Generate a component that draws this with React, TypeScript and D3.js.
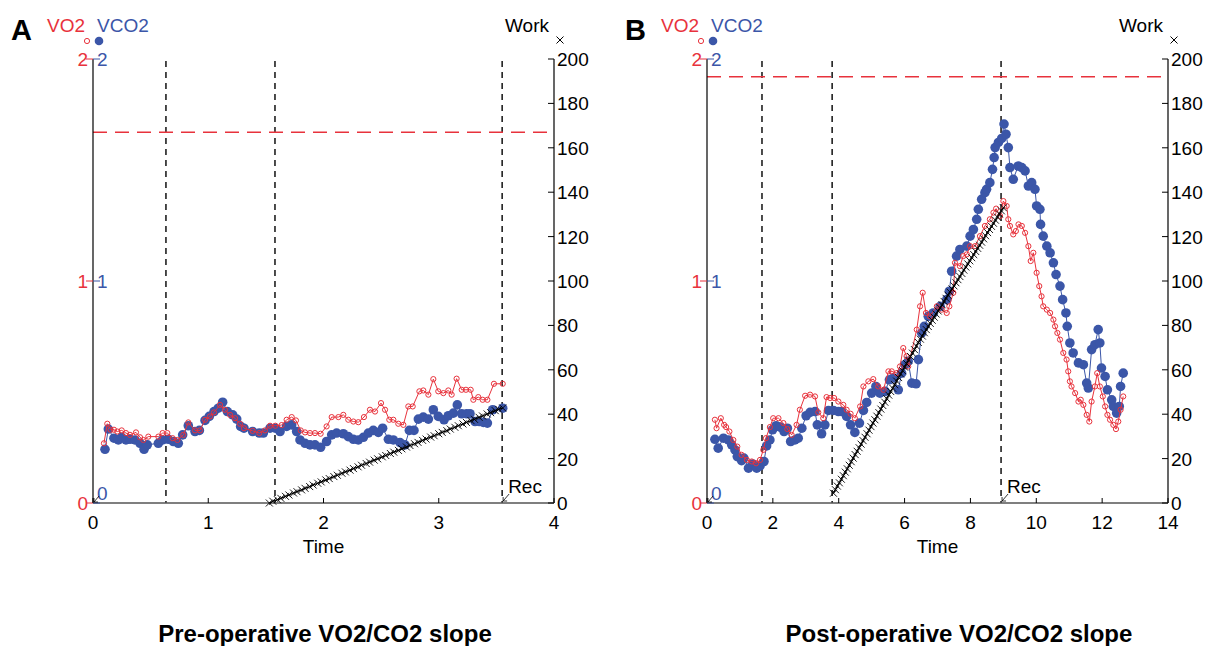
import React from 'react';
import * as d3 from 'd3';

type Pt = [number, number];

// Pre-operative (panel A): [time (min), L/min]
const vo2A: Pt[] = [
  [0.095, 0.269], [0.124, 0.357], [0.153, 0.33], [0.182, 0.33], [0.211, 0.322], [0.249, 0.327],
  [0.286, 0.315], [0.321, 0.307], [0.373, 0.318], [0.408, 0.296], [0.437, 0.284], [0.48, 0.299],
  [0.567, 0.299], [0.604, 0.315], [0.645, 0.315], [0.691, 0.292], [0.732, 0.284], [0.784, 0.307],
  [0.827, 0.363], [0.885, 0.327], [0.928, 0.327], [0.972, 0.375], [1.015, 0.39], [1.05, 0.408],
  [1.102, 0.442], [1.145, 0.42], [1.189, 0.397], [1.232, 0.382], [1.275, 0.357], [1.31, 0.337],
  [1.385, 0.325], [1.443, 0.315], [1.492, 0.327], [1.536, 0.348], [1.582, 0.348], [1.637, 0.351],
  [1.68, 0.375], [1.724, 0.387], [1.761, 0.372], [1.802, 0.327], [1.84, 0.318], [1.883, 0.315],
  [1.926, 0.315], [1.975, 0.312], [2.027, 0.345], [2.071, 0.387], [2.129, 0.387], [2.172, 0.397],
  [2.215, 0.375], [2.259, 0.367], [2.302, 0.364], [2.351, 0.387], [2.403, 0.42], [2.447, 0.412],
  [2.499, 0.45], [2.534, 0.42], [2.571, 0.375], [2.606, 0.375], [2.649, 0.357], [2.693, 0.352],
  [2.736, 0.435], [2.774, 0.435], [2.832, 0.503], [2.866, 0.507], [2.91, 0.488], [2.953, 0.558],
  [2.996, 0.503], [3.04, 0.495], [3.083, 0.507], [3.112, 0.488], [3.155, 0.56], [3.199, 0.51],
  [3.236, 0.51], [3.277, 0.51], [3.3, 0.465], [3.343, 0.477], [3.381, 0.465], [3.422, 0.465],
  [3.479, 0.537], [3.555, 0.537],
];

const vco2A: Pt[] = [
  [0.104, 0.242], [0.133, 0.333], [0.182, 0.292], [0.22, 0.284], [0.249, 0.296], [0.286, 0.284],
  [0.321, 0.287], [0.364, 0.284], [0.408, 0.269], [0.443, 0.242], [0.471, 0.262], [0.567, 0.269],
  [0.604, 0.284], [0.654, 0.287], [0.697, 0.277], [0.74, 0.269], [0.778, 0.307], [0.827, 0.348],
  [0.885, 0.322], [0.923, 0.327], [0.972, 0.372], [1.009, 0.39], [1.05, 0.412], [1.087, 0.427],
  [1.125, 0.454], [1.166, 0.412], [1.212, 0.397], [1.247, 0.378], [1.281, 0.345], [1.31, 0.337],
  [1.385, 0.322], [1.443, 0.315], [1.478, 0.315], [1.536, 0.337], [1.582, 0.337], [1.623, 0.322],
  [1.68, 0.345], [1.724, 0.352], [1.767, 0.322], [1.796, 0.284], [1.84, 0.269], [1.883, 0.262],
  [1.926, 0.262], [1.975, 0.251], [2.027, 0.277], [2.071, 0.307], [2.114, 0.315], [2.172, 0.312],
  [2.215, 0.299], [2.259, 0.287], [2.302, 0.284], [2.346, 0.296], [2.389, 0.315], [2.432, 0.327],
  [2.476, 0.318], [2.513, 0.337], [2.563, 0.287], [2.606, 0.284], [2.664, 0.272], [2.707, 0.262],
  [2.745, 0.327], [2.785, 0.327], [2.823, 0.378], [2.866, 0.387], [2.91, 0.378], [2.953, 0.42],
  [2.996, 0.39], [3.046, 0.375], [3.083, 0.393], [3.127, 0.405], [3.161, 0.442], [3.199, 0.402],
  [3.242, 0.402], [3.271, 0.402], [3.315, 0.367], [3.352, 0.367], [3.387, 0.363], [3.422, 0.36],
  [3.468, 0.42], [3.555, 0.427],
];

// [time (min), W]
const workA: Pt[] = [
  [1.53, 0], [1.56, 0.8], [1.6, 1.5], [1.63, 2.1], [1.67, 3.0], [1.7, 3.6], [1.74, 4.5], [1.77, 5.1],
  [1.81, 5.9], [1.84, 6.6], [1.88, 7.4], [1.91, 8.1], [1.95, 8.9], [1.98, 9.5], [2.02, 10.4], [2.05, 11.0],
  [2.09, 11.9], [2.12, 12.5], [2.16, 13.4], [2.19, 14.0], [2.23, 14.8], [2.26, 15.5], [2.3, 16.3], [2.33, 17.0],
  [2.37, 17.8], [2.4, 18.4], [2.44, 19.3], [2.47, 19.9], [2.51, 20.8], [2.54, 21.4], [2.58, 22.3], [2.61, 22.9],
  [2.65, 23.7], [2.68, 24.4], [2.72, 25.2], [2.75, 25.9], [2.79, 26.7], [2.82, 27.3], [2.86, 28.2], [2.89, 28.8],
  [2.93, 29.7], [2.96, 30.3], [3.0, 31.2], [3.03, 31.8], [3.07, 32.6], [3.1, 33.3], [3.14, 34.1], [3.17, 34.8],
  [3.21, 35.6], [3.24, 36.3], [3.28, 37.1], [3.31, 37.7], [3.35, 38.6], [3.38, 39.2], [3.42, 40.1], [3.45, 40.7],
  [3.49, 41.6], [3.52, 42.2], [3.555, 42.8],
];

// Post-operative (panel B)
const vo2B: Pt[] = [
  [0.24, 0.375], [0.29, 0.337], [0.42, 0.382], [0.52, 0.352], [0.58, 0.342], [0.68, 0.322], [0.8, 0.284],
  [0.92, 0.254], [1.05, 0.217], [1.21, 0.194], [1.36, 0.187], [1.49, 0.179], [1.61, 0.194], [1.71, 0.239],
  [1.79, 0.292], [1.91, 0.342], [2.01, 0.382], [2.17, 0.382], [2.32, 0.36], [2.44, 0.333], [2.57, 0.307],
  [2.72, 0.352], [2.82, 0.42], [2.98, 0.483], [3.13, 0.488], [3.28, 0.48], [3.38, 0.408], [3.53, 0.382],
  [3.63, 0.477], [3.74, 0.473], [3.86, 0.473], [3.99, 0.457], [4.14, 0.442], [4.24, 0.42], [4.36, 0.402],
  [4.49, 0.382], [4.65, 0.435], [4.75, 0.525], [4.9, 0.548], [5.05, 0.558], [5.2, 0.525], [5.36, 0.51],
  [5.51, 0.593], [5.61, 0.593], [5.76, 0.585], [5.86, 0.615], [5.96, 0.698], [6.06, 0.661], [6.11, 0.615],
  [6.37, 0.781], [6.47, 0.886], [6.55, 0.947], [6.65, 0.856], [6.77, 0.841], [6.98, 0.886], [7.13, 0.871],
  [7.28, 0.856], [7.36, 0.886], [7.48, 0.947], [7.53, 1.082], [7.68, 1.067], [7.78, 1.112], [7.89, 1.12],
  [7.99, 1.157], [8.14, 1.157], [8.29, 1.202], [8.44, 1.248], [8.59, 1.278], [8.7, 1.308], [8.78, 1.326],
  [8.9, 1.293], [9.0, 1.36], [9.1, 1.338], [9.15, 1.278], [9.2, 1.248], [9.3, 1.21], [9.38, 1.225],
  [9.46, 1.255], [9.56, 1.248], [9.66, 1.217], [9.76, 1.157], [9.83, 1.09], [9.91, 1.127], [10.01, 1.037],
  [10.09, 0.977], [10.16, 0.931], [10.21, 0.886], [10.32, 0.871], [10.42, 0.856], [10.52, 0.826],
  [10.57, 0.796], [10.64, 0.766], [10.72, 0.736], [10.82, 0.676], [10.92, 0.646], [10.97, 0.593],
  [11.02, 0.548], [11.07, 0.525], [11.18, 0.495], [11.28, 0.457], [11.35, 0.465], [11.43, 0.442],
  [11.53, 0.397], [11.61, 0.367], [11.68, 0.457], [11.78, 0.525], [11.85, 0.585], [11.93, 0.525],
  [12.02, 0.48], [12.09, 0.435], [12.16, 0.397], [12.24, 0.375], [12.34, 0.352], [12.42, 0.333],
  [12.49, 0.367], [12.56, 0.42], [12.64, 0.48],
];

const vco2B: Pt[] = [
  [0.24, 0.287], [0.34, 0.247], [0.5, 0.292], [0.65, 0.284], [0.75, 0.262], [0.85, 0.239], [0.92, 0.209],
  [1.05, 0.191], [1.12, 0.202], [1.26, 0.157], [1.39, 0.176], [1.51, 0.157], [1.61, 0.167], [1.73, 0.187],
  [1.81, 0.257], [1.91, 0.284], [1.99, 0.33], [2.1, 0.348], [2.22, 0.342], [2.34, 0.322], [2.44, 0.337],
  [2.54, 0.277], [2.67, 0.284], [2.77, 0.292], [2.88, 0.337], [3.01, 0.393], [3.13, 0.408], [3.28, 0.412],
  [3.35, 0.352], [3.48, 0.312], [3.58, 0.352], [3.69, 0.417], [3.84, 0.417], [3.99, 0.412], [4.09, 0.412],
  [4.24, 0.39], [4.36, 0.352], [4.49, 0.318], [4.63, 0.36], [4.75, 0.417], [4.85, 0.453], [5.0, 0.495],
  [5.13, 0.525], [5.25, 0.495], [5.41, 0.503], [5.54, 0.555], [5.66, 0.563], [5.81, 0.51], [5.91, 0.585],
  [6.01, 0.623], [6.11, 0.638], [6.22, 0.54], [6.35, 0.537], [6.42, 0.646], [6.52, 0.766], [6.6, 0.796],
  [6.72, 0.841], [6.87, 0.856], [7.08, 0.886], [7.28, 0.916], [7.36, 0.954], [7.43, 1.044], [7.58, 1.112],
  [7.68, 1.142], [7.89, 1.157], [7.99, 1.202], [8.09, 1.232], [8.19, 1.278], [8.24, 1.323], [8.34, 1.368],
  [8.44, 1.398], [8.49, 1.413], [8.59, 1.443], [8.67, 1.503], [8.72, 1.556], [8.75, 1.601], [8.85, 1.624],
  [8.95, 1.642], [9.02, 1.707], [9.08, 1.661], [9.15, 1.601], [9.2, 1.511], [9.3, 1.458], [9.45, 1.518],
  [9.56, 1.511], [9.66, 1.496], [9.76, 1.428], [9.86, 1.443], [9.96, 1.413], [10.01, 1.338], [10.11, 1.323],
  [10.13, 1.255], [10.21, 1.202], [10.32, 1.157], [10.42, 1.127], [10.52, 1.082], [10.6, 1.029],
  [10.72, 0.977], [10.8, 0.916], [10.9, 0.856], [10.94, 0.796], [11.02, 0.721], [11.12, 0.676],
  [11.28, 0.631], [11.43, 0.623], [11.53, 0.54], [11.58, 0.518], [11.68, 0.691], [11.78, 0.713],
  [11.88, 0.781], [11.93, 0.721], [11.98, 0.608], [12.09, 0.57], [12.16, 0.51], [12.29, 0.465],
  [12.34, 0.435], [12.44, 0.405], [12.52, 0.435], [12.56, 0.525], [12.64, 0.585],
];

const workB: Pt[] = [
  [3.84, 4.4], [3.9, 6.0], [3.96, 7.6], [4.02, 9.1], [4.08, 10.7], [4.14, 12.3], [4.2, 13.9], [4.26, 15.4],
  [4.32, 17.0], [4.38, 18.6], [4.44, 20.2], [4.5, 21.8], [4.56, 23.3], [4.62, 24.9], [4.68, 26.5], [4.74, 28.1],
  [4.8, 29.6], [4.86, 31.2], [4.92, 32.8], [4.98, 34.4], [5.04, 36.0], [5.1, 37.5], [5.16, 39.1], [5.22, 40.7],
  [5.28, 42.3], [5.34, 43.9], [5.4, 45.4], [5.46, 47.0], [5.52, 48.6], [5.58, 50.2], [5.64, 51.7], [5.7, 53.3],
  [5.76, 54.9], [5.82, 56.5], [5.88, 58.1], [5.94, 59.6], [6.0, 61.2], [6.06, 62.8], [6.12, 64.4], [6.18, 66.0],
  [6.24, 67.5], [6.3, 69.1], [6.36, 70.7], [6.42, 72.3], [6.48, 73.8], [6.54, 75.2], [6.6, 76.7], [6.66, 78.1],
  [6.72, 79.5], [6.78, 80.9], [6.84, 82.3], [6.9, 83.7], [6.96, 85.1], [7.02, 86.5], [7.08, 87.9], [7.14, 89.3],
  [7.2, 90.8], [7.26, 92.2], [7.32, 93.6], [7.38, 95.0], [7.44, 96.4], [7.5, 97.8], [7.56, 99.2], [7.62, 100.6],
  [7.68, 102.0], [7.74, 103.4], [7.8, 104.9], [7.86, 106.3], [7.92, 107.7], [7.98, 109.1], [8.04, 110.5],
  [8.1, 111.9], [8.16, 113.3], [8.22, 114.7], [8.28, 116.1], [8.34, 117.5], [8.4, 119.0], [8.46, 120.4],
  [8.52, 121.8], [8.58, 123.2], [8.64, 124.6], [8.7, 126.0], [8.76, 127.4], [8.82, 128.8], [8.88, 130.2],
  [8.94, 131.6], [9.0, 133.0],
];

const phasesA = [0.633, 1.579, 3.55];
const phasesB = [1.67, 3.8, 8.93];
const limitA = 1.67;
const limitB = 1.92;
const gasTicks = [0, 1, 2];
const workTicks = [0, 20, 40, 60, 80, 100, 120, 140, 160, 180, 200];
const timeTicksA = [0, 1, 2, 3, 4];
const timeTicksB = [0, 2, 4, 6, 8, 10, 12, 14];

const RED = '#e8323c';
const BLUE = '#3b56a8';
const FONT = '"Liberation Sans", Arial, Helvetica, sans-serif';

const TOP = 59;
const BOTTOM = 503;
const PW = 461;
const FS = 19;

interface PanelProps {
  left: number;
  letter: string;
  xMax: number;
  timeTicks: number[];
  phases: number[];
  limit: number;
  vo2: Pt[];
  vco2: Pt[];
  work: Pt[];
  title: string;
  titleX: number;
}

const Panel = ({ left, letter, xMax, timeTicks, phases, limit, vo2, vco2, work, title, titleX }: PanelProps) => {
  const x = d3.scaleLinear().domain([0, xMax]).range([left, left + PW]);
  const y = d3.scaleLinear().domain([0, 2]).range([BOTTOM, TOP]);
  const yw = d3.scaleLinear().domain([0, 200]).range([BOTTOM, TOP]);
  const right = left + PW;

  const gasLine = d3.line<Pt>().x(d => x(d[0])).y(d => y(d[1]));
  const workLine = d3.line<Pt>().x(d => x(d[0])).y(d => yw(d[1]));
  const cross = (cx: number, cy: number, s: number) =>
    `M${cx - s},${cy - s}L${cx + s},${cy + s}M${cx - s},${cy + s}L${cx + s},${cy - s}`;
  const recX = x(phases[2]);

  return (
    <g fontFamily={FONT}>
      {/* legend */}
      <text x={left - 82} y={40} fontSize={29} fontWeight="bold">{letter}</text>
      <text x={left - 46} y={32} fontSize={FS} fill={RED}>VO2</text>
      <text x={left + 4} y={32} fontSize={FS} fill={BLUE}>VCO2</text>
      <circle cx={left - 6} cy={41} r={2.6} fill="none" stroke={RED} strokeWidth={1} />
      <circle cx={left + 6} cy={41} r={4.3} fill={BLUE} />
      <text x={right - 5} y={32} fontSize={FS} textAnchor="end">Work</text>
      <path d={cross(right + 6, 40, 3.5)} stroke="#000" strokeWidth={1} />

      {/* phase markers */}
      {phases.map((p, i) => (
        <line key={i} x1={x(p)} x2={x(p)} y1={TOP + 2} y2={BOTTOM} stroke="#000" strokeWidth={1.4} strokeDasharray="6,5" />
      ))}
      <line x1={left} x2={right} y1={y(limit)} y2={y(limit)} stroke={RED} strokeWidth={1.6} strokeDasharray="14,8" />

      {/* axes */}
      <line x1={left} x2={left} y1={TOP} y2={BOTTOM} stroke="#000" strokeWidth={1.2} />
      <line x1={right} x2={right} y1={TOP} y2={BOTTOM} stroke="#000" strokeWidth={1.2} />
      <line x1={left} x2={right} y1={BOTTOM} y2={BOTTOM} stroke="#555" strokeWidth={1.4} />
      {gasTicks.map(t => (
        <g key={t}>
          <line x1={left - 7} x2={left} y1={y(t)} y2={y(t)} stroke={RED} strokeWidth={1} />
          <line x1={left} x2={left + 7} y1={y(t)} y2={y(t)} stroke={BLUE} strokeWidth={1} />
          <text x={left - 5} y={y(t) + 7} fontSize={FS} fill={RED} textAnchor="end">{t}</text>
          <text x={left + 4} y={(t === 0 ? y(t) - 10 : y(t)) + 7} fontSize={FS} fill={BLUE}>{t}</text>
        </g>
      ))}
      {workTicks.map(t => (
        <g key={t}>
          <line x1={right - 6} x2={right} y1={yw(t)} y2={yw(t)} stroke="#000" strokeWidth={1} />
          <text x={right + 3} y={yw(t) + 7} fontSize={FS}>{t}</text>
        </g>
      ))}
      {timeTicks.map(t => (
        <g key={t}>
          <line x1={x(t)} x2={x(t)} y1={BOTTOM} y2={BOTTOM - 5} stroke="#000" strokeWidth={1} />
          <text x={x(t)} y={BOTTOM + 26} fontSize={FS} textAnchor="middle">{t}</text>
        </g>
      ))}
      <text x={left + PW / 2} y={BOTTOM + 50} fontSize={FS} textAnchor="middle">Time</text>

      {/* start / recovery arrows */}
      <path d={`M${left + 6},${BOTTOM - 7}L${left + 1},${BOTTOM - 1}M${left + 1},${BOTTOM - 1}l0,-4M${left + 1},${BOTTOM - 1}l4,0`} stroke="#000" strokeWidth={0.8} fill="none" />
      <path d={`M${recX + 7},${BOTTOM - 9}L${recX + 1},${BOTTOM - 2}M${recX + 1},${BOTTOM - 2}l0,-4M${recX + 1},${BOTTOM - 2}l4,0`} stroke="#000" strokeWidth={0.8} fill="none" />
      <text x={recX + 6} y={BOTTOM - 10} fontSize={FS}>Rec</text>

      {/* VCO2 */}
      <path d={gasLine(vco2) ?? ''} fill="none" stroke={BLUE} strokeWidth={1} />
      {vco2.map((d, i) => (
        <circle key={i} cx={x(d[0])} cy={y(d[1])} r={4.8} fill={BLUE} />
      ))}
      {/* VO2 */}
      <path d={gasLine(vo2) ?? ''} fill="none" stroke={RED} strokeWidth={1} />
      {vo2.map((d, i) => (
        <circle key={i} cx={x(d[0])} cy={y(d[1])} r={2.6} fill="none" stroke={RED} strokeWidth={1} />
      ))}
      {/* Work */}
      <path d={workLine(work) ?? ''} fill="none" stroke="#000" strokeWidth={1.2} />
      {work.map((d, i) => (
        <path key={i} d={cross(x(d[0]), yw(d[1]), 3.5)} stroke="#000" strokeWidth={0.9} />
      ))}

      <text x={titleX} y={642} fontSize={24} fontWeight="bold" textAnchor="middle">{title}</text>
    </g>
  );
};

export default function App() {
  return (
    <svg width={1207} height={646} style={{ position: 'absolute', left: 0, top: 0, background: '#fff' }}>
      <rect width={1207} height={646} fill="#fff" />
      <Panel left={93} letter="A" xMax={4} timeTicks={timeTicksA} phases={phasesA} limit={limitA}
        vo2={vo2A} vco2={vco2A} work={workA} title="Pre-operative VO2/CO2 slope" titleX={325} />
      <Panel left={707} letter="B" xMax={14} timeTicks={timeTicksB} phases={phasesB} limit={limitB}
        vo2={vo2B} vco2={vco2B} work={workB} title="Post-operative VO2/CO2 slope" titleX={959} />
    </svg>
  );
}
